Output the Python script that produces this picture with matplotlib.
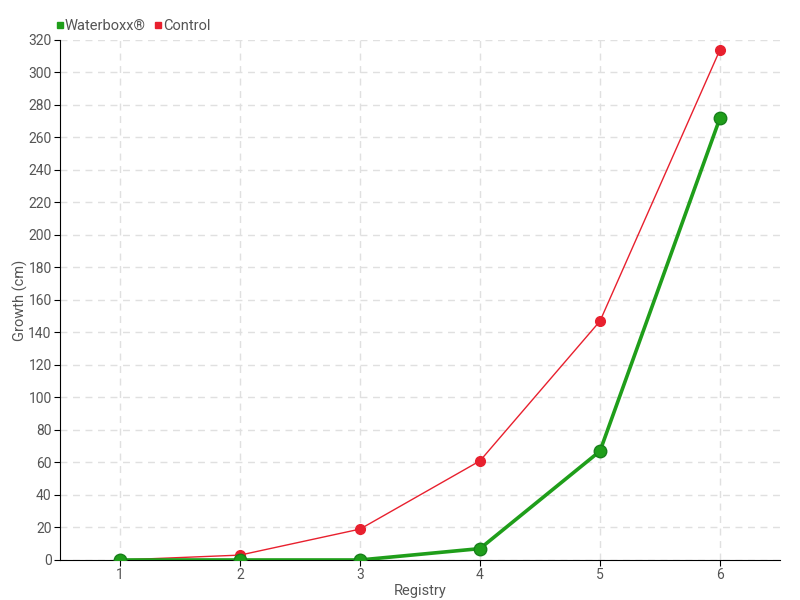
import matplotlib
matplotlib.use('Agg')
import matplotlib.pyplot as plt
from matplotlib.lines import Line2D

plt.rcParams['font.family'] = ['Roboto', 'DejaVu Sans']

registry = [1, 2, 3, 4, 5, 6]
waterboxx = [0, 0, 0, 7, 67, 272]
control = [0, 3, 19, 61, 147, 314]

green = '#1f9e1a'
red = '#e8202e'
textc = '#555555'

fig = plt.figure(figsize=(8, 6), dpi=100)
ax = fig.add_axes([0.075, 0.0667, 0.9, 0.8667])

ax.plot(registry, control, color=red, lw=1, marker='o', ms=7,
        markerfacecolor=red, markeredgecolor=red, zorder=3)
ax.plot(registry, waterboxx, color=green, lw=2.6, marker='o', ms=9,
        markerfacecolor=green, markeredgecolor='#17801a', zorder=4)

ax.set_xlim(0.5, 6.5)
ax.set_ylim(0, 320)
ax.set_xticks(registry)
ax.set_yticks(range(0, 321, 20))
ax.grid(True, color='#e0e0e0', linestyle=(0, (5, 4)), lw=1)
ax.set_axisbelow(True)
for s in ['top', 'right']:
    ax.spines[s].set_visible(False)
ax.spines['left'].set_color('black')
ax.spines['bottom'].set_color('black')
ax.tick_params(colors='black', labelcolor=textc, labelsize=10, length=4, pad=2)
ax.set_xlabel('Registry', color=textc, fontsize=10.5, labelpad=1)
ax.set_ylabel('Growth (cm)', color=textc, fontsize=10.5)
ax.yaxis.set_label_coords(-0.044, 0.5)

handles = [Line2D([], [], color=green, marker='s', ls='', ms=4),
           Line2D([], [], color=red, marker='s', ls='', ms=4)]
fig.legend(handles, ['Waterboxx®', 'Control'], loc='upper left',
           bbox_to_anchor=(0.053, 0.99), ncol=2, frameon=False,
           handletextpad=0.05, columnspacing=0.5, fontsize=10.5,
           labelcolor=textc, handlelength=0.6)

fig.savefig('out.png', dpi=100)
